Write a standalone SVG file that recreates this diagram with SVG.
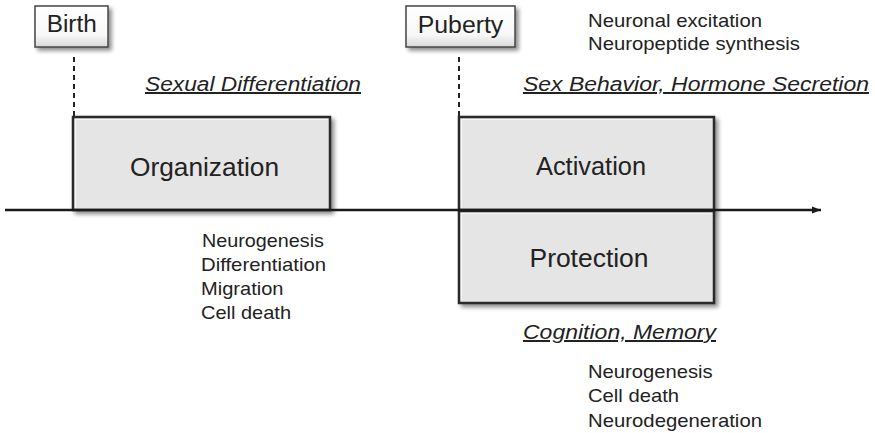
<svg xmlns="http://www.w3.org/2000/svg" width="875" height="433" viewBox="0 0 875 433">
<defs>
<filter id="sh" x="-10%" y="-10%" width="130%" height="130%">
<feGaussianBlur in="SourceAlpha" stdDeviation="2"/>
<feOffset dx="3" dy="3" result="b"/>
<feComponentTransfer><feFuncA type="linear" slope="0.45"/></feComponentTransfer>
<feMerge><feMergeNode/><feMergeNode in="SourceGraphic"/></feMerge>
</filter>
<linearGradient id="lab" x1="0" y1="0" x2="0" y2="1">
<stop offset="0" stop-color="#ffffff"/>
<stop offset="0.7" stop-color="#f8f8f8"/>
<stop offset="1" stop-color="#d8d8d8"/>
</linearGradient>
<marker id="arr" markerWidth="9" markerHeight="8" refX="9" refY="4" orient="auto" markerUnits="userSpaceOnUse">
<path d="M0,0.5 L9,4 L0,7.5 Z" fill="#1a1a1a"/>
</marker>
</defs>
<style>
text{font-family:"Liberation Sans",Arial,sans-serif;fill:#222}
.big{font-size:26px;text-anchor:middle}
.lab{font-size:23px;text-anchor:middle}
.it{font-size:20px;font-style:italic;text-decoration:underline}
.sm{font-size:19px}
.box{fill:#e5e5e5;stroke:#2a2a2a;stroke-width:2.5}
.bev{fill:none;stroke:#f6f6f6;stroke-width:1.2}
.lbox{fill:url(#lab);stroke:#444;stroke-width:1.5}
.dash{stroke:#222;stroke-width:2;stroke-dasharray:5,4;fill:none}
</style>
<g id="connectors">
<line class="dash" x1="74" y1="57" x2="74" y2="117"/>
<line class="dash" x1="459" y1="57" x2="459" y2="117"/>
</g>
<g id="organization">
<rect class="box" x="73" y="117" width="257" height="93" filter="url(#sh)"/>
<path class="bev" d="M75.5,207.5 V119.5 H327.5"/>
<text class="big" x="204.5" y="176" textLength="149" lengthAdjust="spacingAndGlyphs">Organization</text>
</g>
<g id="activation">
<rect class="box" x="459" y="117" width="255" height="93" filter="url(#sh)"/>
<path class="bev" d="M461.5,207.5 V119.5 H711.5"/>
<text class="big" x="591" y="175" textLength="110" lengthAdjust="spacingAndGlyphs">Activation</text>
</g>
<g id="protection">
<rect class="box" x="459" y="211" width="255" height="92" filter="url(#sh)"/>
<path class="bev" d="M461.5,300.5 V213.5 H711.5"/>
<text class="big" x="589" y="267" textLength="119" lengthAdjust="spacingAndGlyphs">Protection</text>
</g>
<g id="axis">
<line x1="5" y1="210" x2="821" y2="210" stroke="#1a1a1a" stroke-width="2.5" marker-end="url(#arr)"/>
</g>
<g id="birth">
<rect class="lbox" x="35" y="6" width="73" height="41" filter="url(#sh)"/>
<text class="lab" x="71.7" y="32" textLength="50" lengthAdjust="spacingAndGlyphs">Birth</text>
</g>
<g id="puberty">
<rect class="lbox" x="406" y="6" width="109" height="41" filter="url(#sh)"/>
<text class="lab" x="460.5" y="33" textLength="85.6" lengthAdjust="spacingAndGlyphs">Puberty</text>
</g>
<g id="labels">
<text class="it" x="145" y="91" textLength="216" lengthAdjust="spacingAndGlyphs">Sexual Differentiation</text>
<text class="it" x="523" y="91" textLength="346" lengthAdjust="spacingAndGlyphs">Sex Behavior, Hormone Secretion</text>
<text class="it" x="523" y="339" textLength="193" lengthAdjust="spacingAndGlyphs">Cognition, Memory</text>
<text class="sm" x="588" y="26.5" textLength="174" lengthAdjust="spacingAndGlyphs">Neuronal excitation</text>
<text class="sm" x="588" y="50" textLength="212" lengthAdjust="spacingAndGlyphs">Neuropeptide synthesis</text>
<text class="sm" x="202" y="247" textLength="122" lengthAdjust="spacingAndGlyphs">Neurogenesis</text>
<text class="sm" x="201" y="271" textLength="125" lengthAdjust="spacingAndGlyphs">Differentiation</text>
<text class="sm" x="201" y="295" textLength="82.5" lengthAdjust="spacingAndGlyphs">Migration</text>
<text class="sm" x="201" y="319" textLength="90" lengthAdjust="spacingAndGlyphs">Cell death</text>
<text class="sm" x="588" y="378" textLength="124.7" lengthAdjust="spacingAndGlyphs">Neurogenesis</text>
<text class="sm" x="588" y="402" textLength="91" lengthAdjust="spacingAndGlyphs">Cell death</text>
<text class="sm" x="588" y="427" textLength="174" lengthAdjust="spacingAndGlyphs">Neurodegeneration</text>
</g>
</svg>
